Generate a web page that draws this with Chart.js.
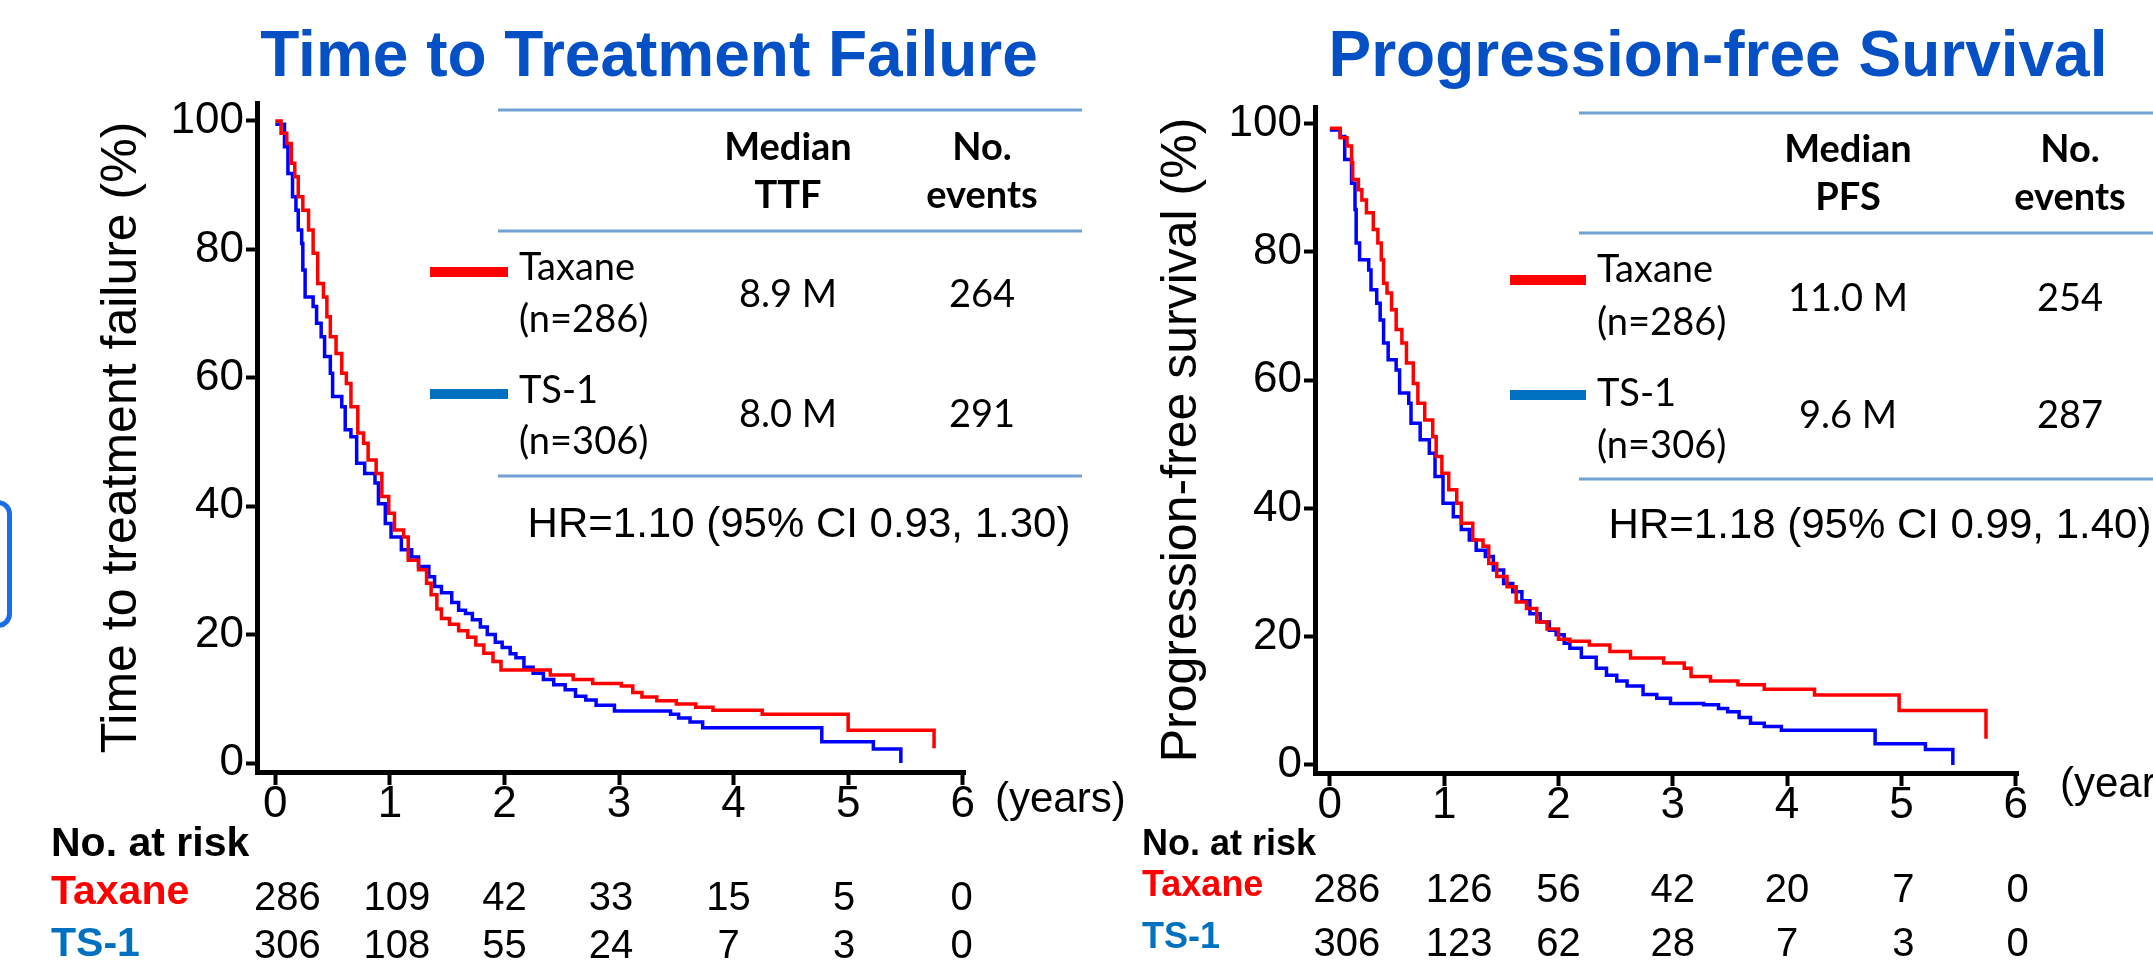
<!DOCTYPE html>
<html>
<head>
<meta charset="utf-8">
<script src="https://cdn.jsdelivr.net/npm/chart.js@4.4.1/dist/chart.umd.min.js"></script>
<style>
html, body { margin: 0; padding: 0; background: #fff; overflow: hidden; width: 2153px; height: 965px; }
#ttf { position: absolute; left: 0; top: 0; }
#pfs { position: absolute; left: 1100px; top: 0; }
.edge { position: absolute; left: -60px; top: 500px; width: 62px; height: 118px; border: 5px solid #1a6fe8; border-radius: 14px; }
</style>
</head>
<body>
<div class="edge"></div>
<canvas id="ttf" width="1298" height="965"></canvas>
<canvas id="pfs" width="1236" height="965"></canvas>
<script>
// axis ticks
const years = [0, 1, 2, 3, 4, 5, 6];
const pctTicks = [0, 20, 40, 60, 80, 100];

// groups
const groups = ['Taxane', 'TS-1'];
const groupN = ['(n=286)', '(n=306)'];

// Time to treatment failure curves (time in years, % without failure)
const ttfTaxaneT = [0, 0.05, 0.10, 0.14, 0.17, 0.20, 0.24, 0.29, 0.33, 0.37, 0.42, 0.45, 0.48, 0.53, 0.58, 0.62, 0.66, 0.72, 0.77, 0.81, 0.88, 0.93, 0.99, 1.04, 1.12, 1.16, 1.25, 1.32, 1.36, 1.41, 1.45, 1.52, 1.60, 1.68, 1.75, 1.82, 1.90, 1.97, 2.40, 2.60, 2.77, 3.02, 3.12, 3.20, 3.33, 3.50, 3.67, 3.82, 4.25, 5.00, 5.75];
const ttfTaxaneS = [100, 98.1, 96.5, 93.4, 91.3, 88.2, 86.1, 83.0, 79.4, 74.7, 72.6, 69.5, 66.4, 63.8, 60.7, 59.1, 55.5, 51.4, 49.8, 47.2, 45.1, 41.5, 38.9, 36.3, 35.2, 31.6, 30.1, 28.0, 26.2, 24.0, 22.5, 21.6, 20.6, 19.6, 18.4, 17.1, 15.8, 14.5, 13.7, 13.0, 12.4, 12.0, 11.0, 10.3, 9.7, 9.2, 8.7, 8.2, 7.6, 5.1, 2.3];
const ttfTs1T = [0, 0.08, 0.11, 0.15, 0.18, 0.20, 0.23, 0.24, 0.26, 0.33, 0.36, 0.40, 0.43, 0.48, 0.50, 0.58, 0.61, 0.66, 0.71, 0.78, 0.87, 0.90, 0.96, 1.01, 1.10, 1.19, 1.25, 1.34, 1.39, 1.45, 1.54, 1.60, 1.66, 1.72, 1.79, 1.85, 1.92, 1.98, 2.05, 2.10, 2.17, 2.25, 2.34, 2.43, 2.53, 2.62, 2.71, 2.80, 2.96, 3.45, 3.52, 3.62, 3.73, 4.77, 5.22, 5.46];
const ttfTs1S = [99.5, 96.0, 91.8, 88.2, 86.1, 83.0, 80.9, 76.8, 72.6, 71.1, 68.5, 66.4, 63.3, 60.7, 57.1, 55.5, 51.9, 50.8, 46.7, 45.1, 43.6, 40.4, 37.3, 35.2, 33.2, 32.1, 30.6, 29.0, 27.5, 26.5, 25.0, 23.8, 23.3, 22.3, 21.2, 20.0, 18.8, 18.0, 17.0, 16.4, 14.9, 14.0, 13.0, 12.2, 11.4, 10.4, 9.8, 9.0, 8.1, 7.6, 7.0, 6.4, 5.5, 3.3, 2.2, 0];

// Progression-free survival curves
const pfsTaxaneT = [0, 0.09, 0.15, 0.19, 0.20, 0.25, 0.28, 0.32, 0.38, 0.42, 0.45, 0.47, 0.50, 0.54, 0.58, 0.63, 0.67, 0.73, 0.77, 0.83, 0.90, 0.93, 0.98, 1.04, 1.11, 1.15, 1.25, 1.34, 1.39, 1.46, 1.55, 1.63, 1.72, 1.81, 1.90, 2.00, 2.10, 2.27, 2.45, 2.63, 2.92, 3.10, 3.16, 3.33, 3.57, 3.80, 4.24, 4.98, 5.74];
const pfsTaxaneS = [99.3, 97.8, 96.5, 93.9, 91.3, 89.7, 88.1, 86.1, 83.5, 81.4, 78.8, 75.1, 73.6, 71.0, 67.9, 65.8, 62.7, 59.5, 56.4, 53.8, 51.2, 48.1, 45.5, 42.9, 40.8, 37.7, 35.1, 34.1, 31.4, 29.4, 27.8, 25.4, 24.4, 22.3, 21.2, 19.6, 19.3, 18.7, 17.7, 16.7, 15.9, 15.1, 13.8, 13.1, 12.5, 11.8, 10.9, 8.5, 4.1];
const pfsTs1T = [0, 0.09, 0.13, 0.19, 0.22, 0.23, 0.26, 0.34, 0.36, 0.41, 0.44, 0.47, 0.51, 0.58, 0.61, 0.69, 0.71, 0.79, 0.87, 0.92, 0.99, 1.08, 1.15, 1.22, 1.28, 1.36, 1.43, 1.52, 1.60, 1.68, 1.75, 1.84, 1.92, 1.98, 2.05, 2.10, 2.20, 2.33, 2.42, 2.51, 2.60, 2.74, 2.86, 2.98, 3.27, 3.40, 3.48, 3.58, 3.68, 3.80, 3.95, 4.77, 5.21, 5.45];
const pfsTs1S = [99.0, 98.0, 94.4, 90.7, 86.6, 81.4, 78.8, 77.2, 74.1, 72.0, 69.4, 65.8, 63.2, 61.6, 58.0, 56.4, 53.3, 50.7, 48.6, 45.0, 40.8, 38.7, 36.7, 35.1, 33.5, 32.5, 30.4, 28.3, 27.0, 25.6, 23.6, 22.3, 21.0, 20.3, 19.0, 18.2, 16.8, 15.1, 14.0, 13.1, 12.3, 11.0, 10.4, 9.6, 9.4, 8.8, 8.3, 7.4, 6.5, 6.0, 5.4, 3.3, 2.4, 0];

// numbers at risk
const ttfRiskTaxane = [286, 109, 42, 33, 15, 5, 0];
const ttfRiskTs1 = [306, 108, 55, 24, 7, 3, 0];
const pfsRiskTaxane = [286, 126, 56, 42, 20, 7, 0];
const pfsRiskTs1 = [306, 123, 62, 28, 7, 3, 0];

// summary table
const ttfMedian = ['8.9 M', '8.0 M'];
const ttfEvents = ['264', '291'];
const pfsMedian = ['11.0 M', '9.6 M'];
const pfsEvents = ['254', '287'];
const ttfHR = 'HR=1.10 (95% CI 0.93, 1.30)';
const pfsHR = 'HR=1.18 (95% CI 0.99, 1.40)';

const ARIAL = '"Liberation Sans", Arial, sans-serif';
const CALIBRI = 'Lato, "Liberation Sans", sans-serif';
const RED = '#ff0000';
const BLUE = '#0000ff';
const LEG_BLUE = '#0070c0';
const TITLE_BLUE = '#0550c4';
const RULE = '#72a1d6';

Chart.defaults.font.family = ARIAL;
Chart.defaults.color = '#000';

function toPoints(t, s) {
    return t.map((v, i) => ({ x: v, y: s[i] }));
}

// draws the heading, table, legend, hazard ratio and the numbers at risk
function annotations(a) {
    return {
        id: 'annotations',
        afterDraw(chart) {
            const ctx = chart.ctx;
            const o = a.offset;
            ctx.save();
            ctx.textBaseline = 'middle';

            ctx.fillStyle = TITLE_BLUE;
            ctx.textAlign = 'center';
            ctx.font = 'bold 64px ' + ARIAL;
            ctx.fillText(a.title, a.titleX - o, 58);

            ctx.strokeStyle = RULE;
            ctx.lineWidth = 3;
            a.ruleY.forEach(y => {
                ctx.beginPath();
                ctx.moveTo(a.ruleX0 - o, y);
                ctx.lineTo(a.ruleX1 - o, y);
                ctx.stroke();
            });

            ctx.fillStyle = '#000';
            ctx.font = 'bold 38px ' + CALIBRI;
            ctx.fillText('Median', a.col1 - o, a.headY[0]);
            ctx.fillText(a.medianLabel, a.col1 - o, a.headY[1]);
            ctx.fillText('No.', a.col2 - o, a.headY[0]);
            ctx.fillText('events', a.col2 - o, a.headY[1]);

            const legColors = [RED, LEG_BLUE];
            ctx.font = '38px ' + CALIBRI;
            groups.forEach((g, i) => {
                ctx.strokeStyle = legColors[i];
                ctx.lineWidth = 10;
                ctx.beginPath();
                ctx.moveTo(a.legX0 - o, a.legY[i]);
                ctx.lineTo(a.legX1 - o, a.legY[i]);
                ctx.stroke();
                ctx.fillStyle = '#000';
                ctx.textAlign = 'left';
                ctx.fillText(g, a.legTextX - o, a.rowY[i][0]);
                ctx.fillText(groupN[i], a.legTextX - o, a.rowY[i][1]);
                ctx.textAlign = 'center';
                ctx.fillText(a.median[i], a.col1 - o, a.valY[i]);
                ctx.fillText(a.events[i], a.col2 - o, a.valY[i]);
            });

            ctx.font = '42px ' + ARIAL;
            ctx.textAlign = 'center';
            ctx.fillText(a.hr, a.hrX - o, a.hrY);

            ctx.textAlign = 'left';
            ctx.fillText('(years)', a.yearsX - o, a.yearsY);

            const xs = chart.scales.x;
            const labelFont = 'bold ' + a.riskFont + 'px ' + ARIAL;
            ctx.font = labelFont;
            ctx.fillText('No. at risk', a.riskX - o, a.riskHeadY);
            const rowColors = [RED, LEG_BLUE];
            const rows = [a.riskTaxane, a.riskTs1];
            groups.forEach((g, i) => {
                ctx.font = labelFont;
                ctx.fillStyle = rowColors[i];
                ctx.textAlign = 'left';
                ctx.fillText(g, a.riskX - o, a.riskLabelY[i]);
                ctx.font = '40px ' + ARIAL;
                ctx.fillStyle = '#000';
                ctx.textAlign = 'center';
                rows[i].forEach((n, k) => {
                    ctx.fillText(String(n), xs.getPixelForValue(years[k]) + a.riskShift[k], a.riskNumY[i]);
                });
            });
            ctx.restore();
        }
    };
}

function makeChart(id, c) {
    return new Chart(document.getElementById(id), {
        type: 'line',
        data: {
            datasets: [
                { label: groups[0], data: toPoints(c.taxT, c.taxS), borderColor: RED, borderWidth: 3.5, pointRadius: 0, stepped: 'before', fill: false },
                { label: groups[1], data: toPoints(c.ts1T, c.ts1S), borderColor: BLUE, borderWidth: 3.5, pointRadius: 0, stepped: 'before', fill: false }
            ]
        },
        options: {
            responsive: false,
            animation: false,
            layout: { padding: { left: 0, right: c.padRight, top: c.padTop, bottom: 0 } },
            plugins: {
                legend: { display: false },
                tooltip: { enabled: false },
                title: { display: false }
            },
            scales: {
                x: {
                    type: 'linear',
                    min: c.xMin,
                    max: 6.02,
                    afterBuildTicks: s => { s.ticks = years.map(v => ({ value: v })); },
                    afterFit: s => { s.height = c.xAxisH; s.paddingLeft = 0; s.paddingRight = 0; },
                    ticks: { font: { size: 44, lineHeight: 1 }, color: '#000', padding: -2, maxRotation: 0, autoSkip: false },
                    grid: { drawOnChartArea: false, drawTicks: true, tickLength: 13, tickWidth: 4, tickColor: '#000' },
                    border: { display: true, color: '#000', width: 5 }
                },
                y: {
                    min: c.yMin,
                    max: c.yMax,
                    afterBuildTicks: s => { s.ticks = pctTicks.map(v => ({ value: v })); },
                    afterFit: s => { s.width = c.yAxisW; s.paddingTop = 0; s.paddingBottom = 0; },
                    ticks: { font: { size: 44 }, color: '#000', padding: 2, autoSkip: false },
                    grid: { drawOnChartArea: false, drawTicks: true, tickLength: 11, tickWidth: 4, tickColor: '#000' },
                    border: { display: true, color: '#000', width: 5 },
                    title: { display: true, text: c.yTitle, color: '#000', font: { size: 50 }, padding: { top: c.yTitlePad, bottom: 0 } }
                }
            }
        },
        plugins: [annotations(c.notes)]
    });
}

makeChart('ttf', {
    yTitle: 'Time to treatment failure (%)',
    taxT: ttfTaxaneT, taxS: ttfTaxaneS, ts1T: ttfTs1T, ts1S: ttfTs1S,
    xMin: -0.16, yMin: -1.4, yMax: 102.8,
    padRight: 333, padTop: 103, xAxisH: 193, yAxisW: 257, yTitlePad: 92,
    notes: {
        offset: 0,
        title: 'Time to Treatment Failure', titleX: 649,
        ruleX0: 498, ruleX1: 1082, ruleY: [110, 231, 476],
        col1: 788, col2: 982, headY: [148, 196], medianLabel: 'TTF',
        legX0: 430, legX1: 508, legY: [272, 394], legTextX: 519,
        rowY: [[268, 320], [391, 442]], valY: [295, 415],
        median: ttfMedian, events: ttfEvents,
        hr: ttfHR, hrX: 799, hrY: 525,
        yearsX: 995, yearsY: 800,
        riskX: 51, riskFont: 41, riskHeadY: 845, riskLabelY: [893, 945], riskNumY: [899, 947],
        riskShift: [12, 7, 0, -8, -5, -4, -1],
        riskTaxane: ttfRiskTaxane, riskTs1: ttfRiskTs1
    }
});

makeChart('pfs', {
    yTitle: 'Progression-free survival (%)',
    taxT: pfsTaxaneT, taxS: pfsTaxaneS, ts1T: pfsTs1T, ts1S: pfsTs1S,
    xMin: -0.13, yMin: -1.25, yMax: 102.6,
    padRight: 318, padTop: 107, xAxisH: 192, yAxisW: 215, yTitlePad: 52,
    notes: {
        offset: 1100,
        title: 'Progression-free Survival', titleX: 1718,
        ruleX0: 1579, ruleX1: 2160, ruleY: [113, 233, 479],
        col1: 1848, col2: 2070, headY: [150, 198], medianLabel: 'PFS',
        legX0: 1510, legX1: 1586, legY: [280, 395], legTextX: 1597,
        rowY: [[270, 323], [394, 446]], valY: [299, 416],
        median: pfsMedian, events: pfsEvents,
        hr: pfsHR, hrX: 1880, hrY: 526,
        yearsX: 2060, yearsY: 785,
        riskX: 1142, riskFont: 36, riskHeadY: 845, riskLabelY: [886, 938], riskNumY: [891, 945],
        riskShift: [17, 15, 0, 0, 0, 2, 2],
        riskTaxane: pfsRiskTaxane, riskTs1: pfsRiskTs1
    }
});
</script>
</body>
</html>
